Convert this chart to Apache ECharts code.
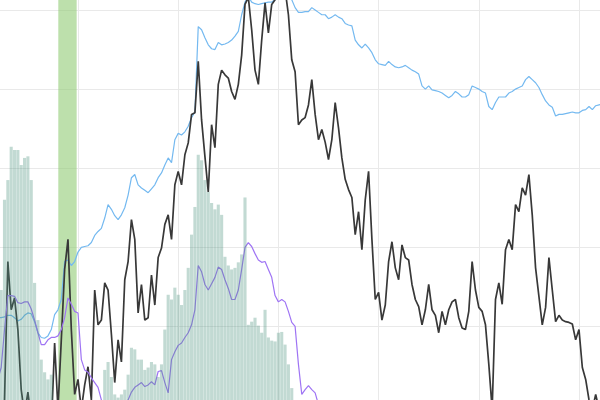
<!DOCTYPE html>
<html><head><meta charset="utf-8">
<script src="https://cdn.jsdelivr.net/npm/echarts@6/dist/echarts.min.js"></script>
<style>html,body{margin:0;padding:0;background:#fff}#c{width:600px;height:400px}</style>
</head><body><div id="c"></div>
<script>
// index of the first sample on the x axis
const startIndex = 6;

const blueLine = [
 111,111,112,114,114,111,107,109,114,117,
 116,106,92,86,85,88,96,115,121,134,
 182,184,177,182,194,200,201,202,206,215,
 220,224,237,254,248,240,235,241,250,266,
 288,292,279,275,272,269,274,279,288,294,
 304,313,307,336,344,342,346,353,364,371,
 479,475,465,456,451,450,459,456,457,459,
 462,467,473,494,510,517,510,508,507,508,
 509,510,510,513,519,523,519,515,513,503,
 497,497,498,498,503,500,497,494,494,489,
 491,494,491,489,483,481,480,462,456,452,
 457,452,446,437,432,431,430,435,431,428,
 427,428,430,427,424,422,419,404,400,404,
 399,398,397,395,392,389,392,397,394,390,
 390,393,404,402,400,397,395,378,374,383,
 390,390,390,395,397,400,402,404,412,416,
 412,408,402,393,385,380,377,366,368,368,
 369,370,371,370,370,373,374,378,374,379,
 380,381
];

const blackLine = [
 -31,-18,7,182,121,136,96,20,-12,17,
 -18,-31,-43,-43,-43,-43,-31,79,-5,83,
 172,210,96,14,33,-5,26,49,7,146,
 102,108,155,146,90,29,83,55,159,182,
 235,210,117,153,108,111,165,127,187,199,
 229,241,210,279,296,279,317,332,368,370,
 435,361,315,270,355,326,406,424,418,414,
 397,387,406,443,507,516,475,424,406,462,
 509,471,507,513,532,545,526,494,437,422,
 355,361,364,380,412,368,336,349,333,311,
 336,383,351,313,286,273,263,216,245,197,
 260,296,210,134,143,108,127,182,207,174,
 159,203,187,184,153,134,125,102,121,153,
 121,114,92,119,102,121,131,134,111,98,
 96,119,182,146,124,119,102,52,-5,134,
 155,128,197,210,197,254,245,275,266,292,
 241,174,138,102,124,187,146,106,114,108,
 106,105,103,83,96,48,33,7,-5,14,
 -5,-18
];

const purpleLine = [
 33,48,96,139,139,138,130,129,131,131,
 122,108,92,77,77,83,86,86,88,96,
 111,136,128,119,117,58,45,42,35,29,
 23,7,1,-5,-5,-5,-5,-5,1,7,
 17,23,26,29,24,26,30,26,43,44,
 29,16,58,68,76,79,86,92,102,121,
 177,169,153,146,154,162,175,172,159,148,
 134,134,146,172,200,206,201,192,184,181,
 182,172,162,139,131,134,131,119,105,100,
 52,14,20,25,20,16,1,-18,-31
];

const barValues = [
 146,146,260,285,327,323,323,304,313,315,
 285,155,108,58,42,33,39,0,0,0,
 0,0,0,0,0,0,0,0,0,0,
 0,0,45,55,36,14,10,14,20,39,
 73,71,58,58,45,48,55,52,36,52,
 96,140,134,149,140,127,146,174,216,251,
 317,310,285,270,256,248,254,241,188,177,
 172,174,181,191,263,102,106,111,101,92,
 121,86,82,81,92,93,77,52,22
];

// highlighted period on the x axis
const highlightRange = [24.1, 29.6];

function pairs(arr) { return arr.map((v, i) => [startIndex + i, v]); }

const chart = echarts.init(document.getElementById('c'), null, {renderer: 'canvas'});
const split = {show: true, lineStyle: {color: '#e9e9e9', width: 1}};
chart.setOption({
  animation: false,
  grid: {left: -22.2, right: -79.2, top: -69.1, bottom: -84.6, containLabel: false, outerBoundsMode: 'none'},
  xAxis: {type: 'value', min: 0, max: 210, interval: 30,
    axisLine: {show: false}, axisTick: {show: false}, axisLabel: {show: false}, splitLine: split},
  yAxis: {type: 'value', min: -100, max: 600, interval: 100,
    axisLine: {show: false}, axisTick: {show: false}, axisLabel: {show: false}, splitLine: split},
  series: [
    {type: 'line', data: pairs(blueLine), symbol: 'none', z: 2,
      lineStyle: {color: '#74b9f0', width: 1.2},
      markArea: {silent: true, itemStyle: {color: '#91cc75', opacity: 0.6},
        data: [[{xAxis: highlightRange[0]}, {xAxis: highlightRange[1]}]]}},
    {type: 'line', data: pairs(blackLine), symbol: 'none', z: 3,
      lineStyle: {color: '#383838', width: 1.7}},
    {type: 'line', data: pairs(purpleLine), symbol: 'none', z: 3,
      lineStyle: {color: '#9f74f4', width: 1.2}},
    {type: 'bar', data: pairs(barValues), barWidth: 3.1, z: 5,
      itemStyle: {color: 'rgba(80,150,130,0.35)'}}
  ]
});
</script></body></html>
